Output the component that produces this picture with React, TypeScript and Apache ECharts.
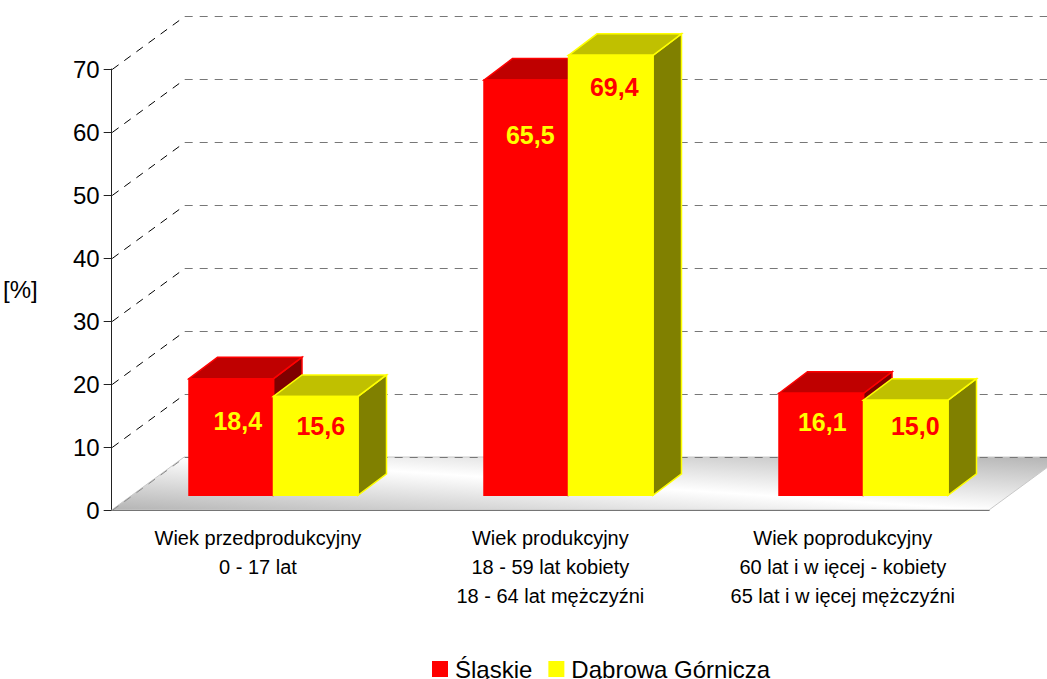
import React, { useEffect, useRef } from "react";
import * as echarts from "echarts";

const categories = [
  "Wiek przedprodukcyjny\n0 - 17 lat",
  "Wiek produkcyjny\n18 - 59 lat kobiety\n18 - 64 lat mężczyźni",
  "Wiek poprodukcyjny\n60 lat i w ięcej - kobiety\n65 lat i w ięcej mężczyźni",
];
const slaskieName = "Śląskie";
const dabrowaName = "Dąbrowa Górnicza";
const slaskie = [18.4, 65.5, 16.1];
const dabrowa = [15.6, 69.4, 15.0];
const yTicks = [0, 10, 20, 30, 40, 50, 60, 70];

const FONT = "'Liberation Sans', Arial, sans-serif";
const WALL_DX = 72.5;
const WALL_DY = 53;
const BAR_W = 84.5;
const BAR_DX = 28.5;
const BAR_DY = 21.5;
// label nudges from the bar's front-face centre / top edge
const redLabelNudge = [[6.5, 42.3], [4, 55], [1, 28.7]];
const yellowLabelNudge = [[5, 30], [3.5, 32], [9.5, 26]];

const fmt = (v: number) => v.toFixed(1).replace(".", ",");

function barRenderer(side: number, pal: any, nudges: number[][], labelColor: string) {
  return (_p: any, api: any) => {
    const i = api.value(0);
    const v = api.value(1);
    const top = api.coord([i, v]);
    const base = api.coord([i, 0]);
    const x0 = side === 0 ? top[0] - BAR_W : top[0];
    const x1 = x0 + BAR_W;
    const yT = top[1];
    const yB = base[1];
    const lineStyle = { stroke: pal.front, lineWidth: 1.5, lineJoin: "miter" };
    return {
      type: "group",
      children: [
        {
          type: "polygon",
          shape: { points: [[x1, yT], [x1 + BAR_DX, yT - BAR_DY], [x1 + BAR_DX, yB - BAR_DY], [x1, yB]] },
          style: { fill: pal.side, ...lineStyle },
        },
        {
          type: "polygon",
          shape: { points: [[x0, yT], [x0 + BAR_DX, yT - BAR_DY], [x1 + BAR_DX, yT - BAR_DY], [x1, yT]] },
          style: { fill: pal.top, ...lineStyle },
        },
        {
          type: "rect",
          shape: { x: x0, y: yT, width: BAR_W, height: yB - yT },
          style: { fill: pal.front, ...lineStyle },
        },
        {
          type: "text",
          style: {
            x: x0 + BAR_W / 2 + nudges[i][0],
            y: yT + nudges[i][1],
            text: fmt(v),
            fill: labelColor,
            font: `bold 25px ${FONT}`,
            align: "center",
            verticalAlign: "middle",
          },
        },
      ],
    };
  };
}

export default function App() {
  const ref = useRef<HTMLDivElement>(null);
  useEffect(() => {
    const chart = echarts.init(ref.current!, undefined, { renderer: "svg" });
    const renderFloor = (params: any, api: any) => {
      const cs = params.coordSys;
      const yb = cs.y + cs.height;
      const xl = cs.x;
      const xr = cs.x + cs.width;
      return {
        type: "group",
        children: [
          {
            type: "polygon",
            shape: { points: [[xl, yb], [xl + WALL_DX, yb - WALL_DY], [xr + WALL_DX, yb - WALL_DY], [xr, yb]] },
            style: {
              fill: new echarts.graphic.LinearGradient(
                578.7, 541, 586.3, 426,
                [
                  { offset: 0, color: "#b4b4b4" },
                  { offset: 0.5, color: "#ffffff" },
                  { offset: 1, color: "#b4b4b4" },
                ],
                true
              ),
              stroke: "#c8c8c8",
              lineWidth: 1,
            },
          },
        ],
      };
    };
    const renderGrid = (params: any, api: any) => {
      const cs = params.coordSys;
      const v = api.value(1);
      const y = Math.round(api.coord([0, v])[1]) + 0.5;
      const xl = cs.x + 0.5;
      const xr = cs.x + cs.width;
      return {
        type: "group",
        children: [
          {
            type: "line",
            shape: { x1: xl, y1: y, x2: xl + WALL_DX, y2: y - WALL_DY },
            style: { stroke: v === 0 ? "#8a8a8a" : "#000000", lineWidth: 1, lineDash: [8, 7] },
          },
          {
            type: "line",
            shape: { x1: xl + WALL_DX, y1: y - WALL_DY, x2: xr + WALL_DX, y2: y - WALL_DY },
            style: { stroke: "#777777", lineWidth: 1, lineDash: [8, 7] },
          },
        ],
      };
    };
    chart.setOption({
      animation: false,
      backgroundColor: "#ffffff",
      textStyle: { fontFamily: FONT },
      legend: {
        left: 432,
        top: 657,
        padding: 0,
        itemWidth: 16,
        itemHeight: 16,
        itemGap: 16,
        icon: "rect",
        selectedMode: false,
        data: [slaskieName, dabrowaName],
        textStyle: { fontFamily: FONT, fontSize: 24, color: "#000000", padding: [0, 0, 0, 2] },
      },
      grid: [
        { left: 104, top: 69, width: 885, height: 441 },
        { left: 126, top: 51.5, width: 885, height: 443.8 },
      ],
      xAxis: [
        {
          gridIndex: 0,
          type: "category",
          data: categories,
          axisLine: { lineStyle: { color: "#222222", width: 1 } },
          axisTick: { length: 9, alignWithLabel: false, lineStyle: { color: "#222222" } },
          axisLabel: {
            interval: 0,
            margin: 13,
            fontFamily: FONT,
            fontSize: 20,
            lineHeight: 29,
            color: "#000000",
            verticalAlign: "top",
          },
        },
        { gridIndex: 1, type: "category", data: categories, show: false },
      ],
      yAxis: [
        {
          gridIndex: 0,
          type: "value",
          min: 0,
          max: 70,
          interval: 10,
          name: "[%]",
          nameLocation: "middle",
          nameRotate: 0,
          nameGap: 74,
          nameTextStyle: { fontFamily: FONT, fontSize: 24, color: "#000000" },
          axisLine: { show: true, onZero: false, lineStyle: { color: "#222222", width: 1 } },
          axisTick: { show: true, length: 8, lineStyle: { color: "#222222" } },
          axisLabel: { margin: 12, fontFamily: FONT, fontSize: 24, color: "#000000" },
          splitLine: { show: false },
        },
        { gridIndex: 1, type: "value", min: 0, max: 70, interval: 10, show: false },
      ],
      series: [
        {
          type: "custom",
          name: "floor",
          xAxisIndex: 0,
          yAxisIndex: 0,
          renderItem: renderFloor,
          data: [[0, 0]],
          silent: true,
          z: 1,
        },
        {
          type: "custom",
          name: "wall",
          xAxisIndex: 0,
          yAxisIndex: 0,
          renderItem: renderGrid,
          data: yTicks.map((t) => [0, t]),
          encode: { x: 0, y: 1 },
          silent: true,
          z: 2,
        },
        {
          type: "custom",
          name: slaskieName,
          xAxisIndex: 1,
          yAxisIndex: 1,
          itemStyle: { color: "#ff0000" },
          renderItem: barRenderer(0, { front: "#ff0000", top: "#bf0000", side: "#7f0000" }, redLabelNudge, "#ffff00"),
          data: slaskie.map((v, i) => [i, v]),
          encode: { x: 0, y: 1 },
          z: 3,
        },
        {
          type: "custom",
          name: dabrowaName,
          xAxisIndex: 1,
          yAxisIndex: 1,
          itemStyle: { color: "#ffff00" },
          renderItem: barRenderer(1, { front: "#ffff00", top: "#c0c000", side: "#808000" }, yellowLabelNudge, "#ff0000"),
          data: dabrowa.map((v, i) => [i, v]),
          encode: { x: 0, y: 1 },
          z: 4,
        },
      ],
    });
    return () => chart.dispose();
  }, []);
  return <div ref={ref} style={{ position: "fixed", left: 0, top: 0, width: 1047, height: 679 }} />;
}
